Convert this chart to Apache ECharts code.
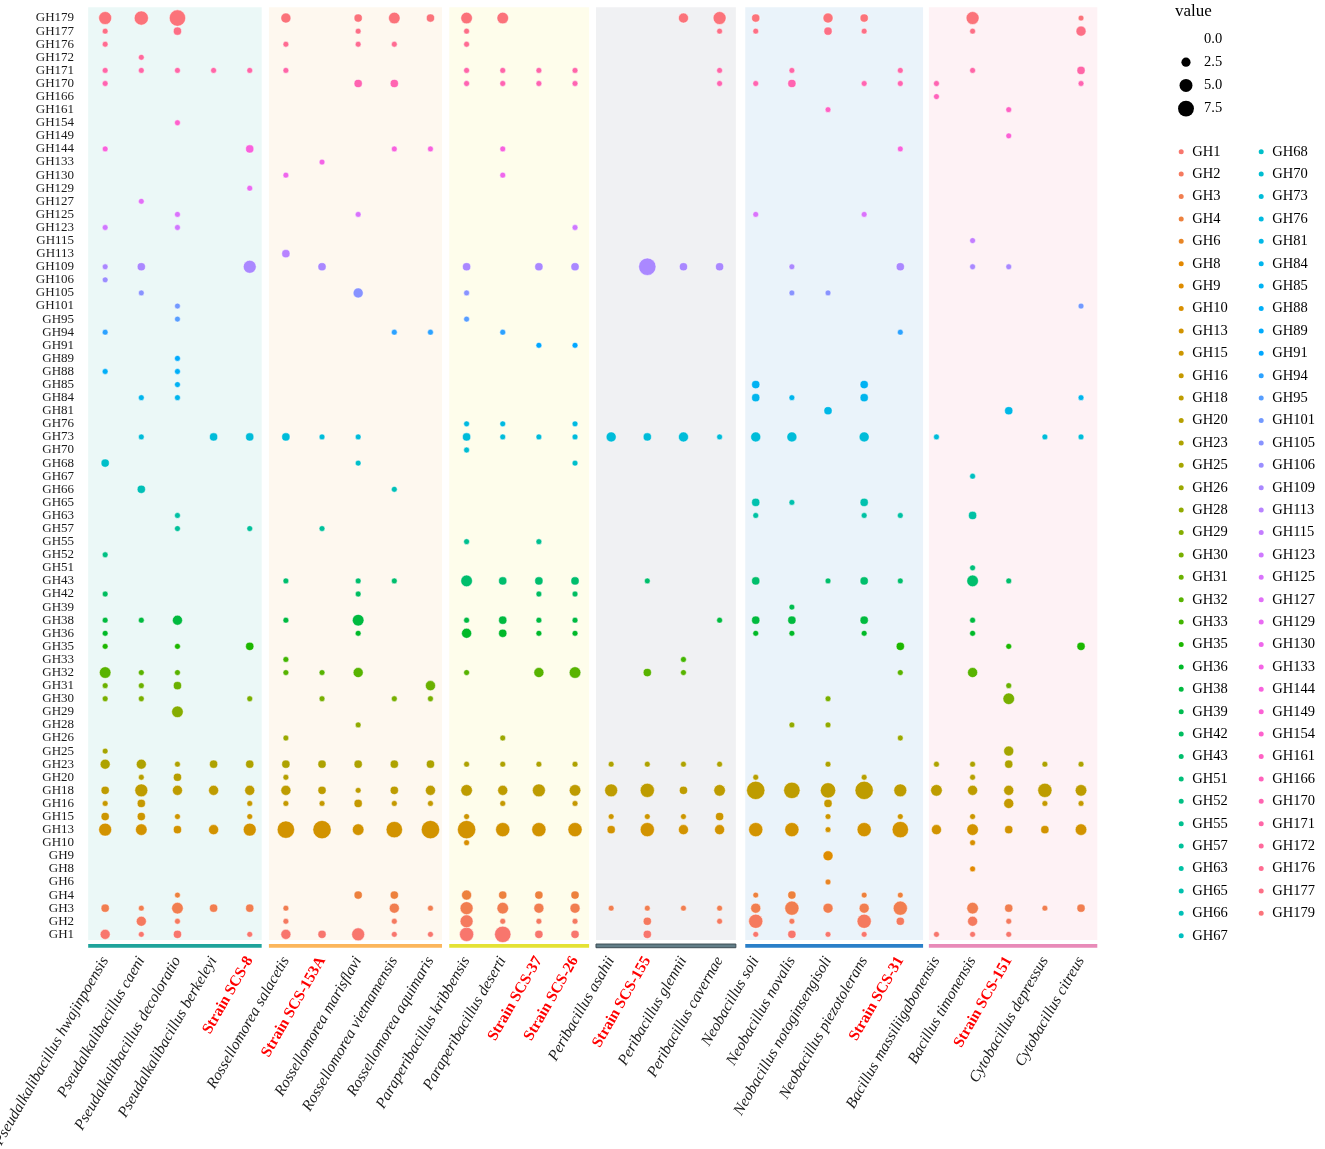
<!DOCTYPE html>
<html>
<head>
<meta charset="utf-8">
<title>GH families</title>
<script src="https://cdn.jsdelivr.net/npm/echarts@6.0.0/dist/echarts.min.js"></script>
<style>
	html, body { margin: 0; padding: 0; background: #fff; }
	#chart { width: 1325px; height: 1149px; }
</style>
</head>
<body>
<div id="chart"></div>
<script>
// genomes, left to right
var genomes = [
	'Pseudalkalibacillus hwajinpoensis', 'Pseudalkalibacillus caeni', 'Pseudalkalibacillus decoloratio',
	'Pseudalkalibacillus berkeleyi', 'Strain SCS-8',
	'Rossellomorea salacetis', 'Strain SCS-153A', 'Rossellomorea marisflavi', 'Rossellomorea vietnamensis',
	'Rossellomorea aquimaris',
	'Paraperibacillus kribbensis', 'Paraperibacillus deserti', 'Strain SCS-37', 'Strain SCS-26',
	'Peribacillus asahii', 'Strain SCS-155', 'Peribacillus glennii', 'Peribacillus cavernae',
	'Neobacillus soli', 'Neobacillus novalis', 'Neobacillus notoginsengisoli', 'Neobacillus piezotolerans',
	'Strain SCS-31',
	'Bacillus massiliigabonensis', 'Bacillus timonensis', 'Strain SCS-151', 'Cytobacillus depressus',
	'Cytobacillus citreus'
]

// GH families, bottom to top
var families = [
	'GH1', 'GH2', 'GH3', 'GH4', 'GH6', 'GH8', 'GH9', 'GH10', 'GH13', 'GH15', 'GH16', 'GH18',
	'GH20', 'GH23', 'GH25', 'GH26', 'GH28', 'GH29', 'GH30', 'GH31', 'GH32', 'GH33', 'GH35', 'GH36',
	'GH38', 'GH39', 'GH42', 'GH43', 'GH51', 'GH52', 'GH55', 'GH57', 'GH63', 'GH65', 'GH66', 'GH67',
	'GH68', 'GH70', 'GH73', 'GH76', 'GH81', 'GH84', 'GH85', 'GH88', 'GH89', 'GH91', 'GH94', 'GH95',
	'GH101', 'GH105', 'GH106', 'GH109', 'GH113', 'GH115', 'GH123', 'GH125', 'GH127', 'GH129', 'GH130', 'GH133',
	'GH144', 'GH149', 'GH154', 'GH161', 'GH166', 'GH170', 'GH171', 'GH172', 'GH176', 'GH177', 'GH179'
]

// gene counts: one row per family (same order), one column per genome
var counts = [
	[3,1,2,0,1, 3,2,5,1,1, 6,8,2,2, 0,2,0,0, 1,2,1,1,0, 1,1,1,0,0], // GH1
	[0,3,1,0,0, 1,0,0,1,0, 5,1,1,1, 0,2,0,1, 6,1,0,6,2, 0,3,1,0,0], // GH2
	[2,1,4,2,2, 1,0,0,3,1, 5,4,3,3, 1,1,1,1, 3,6,3,3,6, 0,4,2,1,2], // GH3
	[0,0,1,0,0, 0,0,2,2,0, 3,2,2,2, 0,0,0,0, 1,2,0,1,1, 0,0,0,0,0], // GH4
	[0,0,0,0,0, 0,0,0,0,0, 0,0,0,0, 0,0,0,0, 0,0,1,0,0, 0,0,0,0,0], // GH6
	[0,0,0,0,0, 0,0,0,0,0, 0,0,0,0, 0,0,0,0, 0,0,0,0,0, 0,1,0,0,0], // GH8
	[0,0,0,0,0, 0,0,0,0,0, 0,0,0,0, 0,0,0,0, 0,0,3,0,0, 0,0,0,0,0], // GH9
	[0,0,0,0,0, 0,0,0,0,0, 1,0,0,0, 0,0,0,0, 0,0,0,0,0, 0,1,0,0,0], // GH10
	[5,4,2,3,5, 9,10,4,8,10, 10,6,6,6, 2,6,3,3, 6,6,1,6,8, 3,4,2,2,4], // GH13
	[2,2,1,0,1, 0,0,0,0,0, 1,0,0,0, 1,1,1,2, 0,0,1,0,1, 0,1,0,0,0], // GH15
	[1,2,0,0,1, 1,1,2,1,1, 0,1,0,1, 0,0,0,0, 0,0,2,0,0, 0,0,3,1,1], // GH16
	[2,5,3,3,3, 3,2,1,2,3, 4,3,5,4, 5,6,2,4, 10,8,7,10,5, 4,3,3,6,4], // GH18
	[0,1,2,0,0, 1,0,0,0,0, 0,0,0,0, 0,0,0,0, 1,0,0,1,0, 0,1,0,0,0], // GH20
	[3,3,1,2,2, 2,2,2,2,2, 1,1,1,1, 1,1,1,1, 0,0,1,0,0, 1,1,2,1,1], // GH23
	[1,0,0,0,0, 0,0,0,0,0, 0,0,0,0, 0,0,0,0, 0,0,0,0,0, 0,0,3,0,0], // GH25
	[0,0,0,0,0, 1,0,0,0,0, 0,1,0,0, 0,0,0,0, 0,0,0,0,1, 0,0,0,0,0], // GH26
	[0,0,0,0,0, 0,0,1,0,0, 0,0,0,0, 0,0,0,0, 0,1,1,0,0, 0,0,0,0,0], // GH28
	[0,0,4,0,0, 0,0,0,0,0, 0,0,0,0, 0,0,0,0, 0,0,0,0,0, 0,0,0,0,0], // GH29
	[1,1,0,0,1, 0,1,0,1,1, 0,0,0,0, 0,0,0,0, 0,0,1,0,0, 0,0,4,0,0], // GH30
	[1,1,2,0,0, 0,0,0,0,3, 0,0,0,0, 0,0,0,0, 0,0,0,0,0, 0,0,1,0,0], // GH31
	[4,1,1,0,0, 1,1,3,0,0, 1,0,3,4, 0,2,1,0, 0,0,0,0,1, 0,3,0,0,0], // GH32
	[0,0,0,0,0, 1,0,0,0,0, 0,0,0,0, 0,0,1,0, 0,0,0,0,0, 0,0,0,0,0], // GH33
	[1,0,1,0,2, 0,0,0,0,0, 0,0,0,0, 0,0,0,0, 0,0,0,0,2, 0,0,1,0,2], // GH35
	[1,0,0,0,0, 0,0,1,0,0, 3,2,1,1, 0,0,0,0, 1,1,0,1,0, 0,1,0,0,0], // GH36
	[1,1,3,0,0, 1,0,4,0,0, 1,2,1,1, 0,0,0,1, 2,2,0,2,0, 0,1,0,0,0], // GH38
	[0,0,0,0,0, 0,0,0,0,0, 0,0,0,0, 0,0,0,0, 0,1,0,0,0, 0,0,0,0,0], // GH39
	[1,0,0,0,0, 0,0,1,0,0, 0,0,1,1, 0,0,0,0, 0,0,0,0,0, 0,0,0,0,0], // GH42
	[0,0,0,0,0, 1,0,1,1,0, 4,2,2,2, 0,1,0,0, 2,0,1,2,1, 0,4,1,0,0], // GH43
	[0,0,0,0,0, 0,0,0,0,0, 0,0,0,0, 0,0,0,0, 0,0,0,0,0, 0,1,0,0,0], // GH51
	[1,0,0,0,0, 0,0,0,0,0, 0,0,0,0, 0,0,0,0, 0,0,0,0,0, 0,0,0,0,0], // GH52
	[0,0,0,0,0, 0,0,0,0,0, 1,0,1,0, 0,0,0,0, 0,0,0,0,0, 0,0,0,0,0], // GH55
	[0,0,1,0,1, 0,1,0,0,0, 0,0,0,0, 0,0,0,0, 0,0,0,0,0, 0,0,0,0,0], // GH57
	[0,0,1,0,0, 0,0,0,0,0, 0,0,0,0, 0,0,0,0, 1,0,0,1,1, 0,2,0,0,0], // GH63
	[0,0,0,0,0, 0,0,0,0,0, 0,0,0,0, 0,0,0,0, 2,1,0,2,0, 0,0,0,0,0], // GH65
	[0,2,0,0,0, 0,0,0,1,0, 0,0,0,0, 0,0,0,0, 0,0,0,0,0, 0,0,0,0,0], // GH66
	[0,0,0,0,0, 0,0,0,0,0, 0,0,0,0, 0,0,0,0, 0,0,0,0,0, 0,1,0,0,0], // GH67
	[2,0,0,0,0, 0,0,1,0,0, 0,0,0,1, 0,0,0,0, 0,0,0,0,0, 0,0,0,0,0], // GH68
	[0,0,0,0,0, 0,0,0,0,0, 1,0,0,0, 0,0,0,0, 0,0,0,0,0, 0,0,0,0,0], // GH70
	[0,1,0,2,2, 2,1,1,0,0, 2,1,1,1, 3,2,3,1, 3,3,0,3,0, 1,0,0,1,1], // GH73
	[0,0,0,0,0, 0,0,0,0,0, 1,1,0,1, 0,0,0,0, 0,0,0,0,0, 0,0,0,0,0], // GH76
	[0,0,0,0,0, 0,0,0,0,0, 0,0,0,0, 0,0,0,0, 0,0,2,0,0, 0,0,2,0,0], // GH81
	[0,1,1,0,0, 0,0,0,0,0, 0,0,0,0, 0,0,0,0, 2,1,0,2,0, 0,0,0,0,1], // GH84
	[0,0,1,0,0, 0,0,0,0,0, 0,0,0,0, 0,0,0,0, 2,0,0,2,0, 0,0,0,0,0], // GH85
	[1,0,1,0,0, 0,0,0,0,0, 0,0,0,0, 0,0,0,0, 0,0,0,0,0, 0,0,0,0,0], // GH88
	[0,0,1,0,0, 0,0,0,0,0, 0,0,0,0, 0,0,0,0, 0,0,0,0,0, 0,0,0,0,0], // GH89
	[0,0,0,0,0, 0,0,0,0,0, 0,0,1,1, 0,0,0,0, 0,0,0,0,0, 0,0,0,0,0], // GH91
	[1,0,0,0,0, 0,0,0,1,1, 0,1,0,0, 0,0,0,0, 0,0,0,0,1, 0,0,0,0,0], // GH94
	[0,0,1,0,0, 0,0,0,0,0, 1,0,0,0, 0,0,0,0, 0,0,0,0,0, 0,0,0,0,0], // GH95
	[0,0,1,0,0, 0,0,0,0,0, 0,0,0,0, 0,0,0,0, 0,0,0,0,0, 0,0,0,0,1], // GH101
	[0,1,0,0,0, 0,0,3,0,0, 1,0,0,0, 0,0,0,0, 0,1,1,0,0, 0,0,0,0,0], // GH105
	[1,0,0,0,0, 0,0,0,0,0, 0,0,0,0, 0,0,0,0, 0,0,0,0,0, 0,0,0,0,0], // GH106
	[1,2,0,0,5, 0,2,0,0,0, 2,0,2,2, 0,9,2,2, 0,1,0,0,2, 0,1,1,0,0], // GH109
	[0,0,0,0,0, 2,0,0,0,0, 0,0,0,0, 0,0,0,0, 0,0,0,0,0, 0,0,0,0,0], // GH113
	[0,0,0,0,0, 0,0,0,0,0, 0,0,0,0, 0,0,0,0, 0,0,0,0,0, 0,1,0,0,0], // GH115
	[1,0,1,0,0, 0,0,0,0,0, 0,0,0,1, 0,0,0,0, 0,0,0,0,0, 0,0,0,0,0], // GH123
	[0,0,1,0,0, 0,0,1,0,0, 0,0,0,0, 0,0,0,0, 1,0,0,1,0, 0,0,0,0,0], // GH125
	[0,1,0,0,0, 0,0,0,0,0, 0,0,0,0, 0,0,0,0, 0,0,0,0,0, 0,0,0,0,0], // GH127
	[0,0,0,0,1, 0,0,0,0,0, 0,0,0,0, 0,0,0,0, 0,0,0,0,0, 0,0,0,0,0], // GH129
	[0,0,0,0,0, 1,0,0,0,0, 0,1,0,0, 0,0,0,0, 0,0,0,0,0, 0,0,0,0,0], // GH130
	[0,0,0,0,0, 0,1,0,0,0, 0,0,0,0, 0,0,0,0, 0,0,0,0,0, 0,0,0,0,0], // GH133
	[1,0,0,0,2, 0,0,0,1,1, 0,1,0,0, 0,0,0,0, 0,0,0,0,1, 0,0,0,0,0], // GH144
	[0,0,0,0,0, 0,0,0,0,0, 0,0,0,0, 0,0,0,0, 0,0,0,0,0, 0,0,1,0,0], // GH149
	[0,0,1,0,0, 0,0,0,0,0, 0,0,0,0, 0,0,0,0, 0,0,0,0,0, 0,0,0,0,0], // GH154
	[0,0,0,0,0, 0,0,0,0,0, 0,0,0,0, 0,0,0,0, 0,0,1,0,0, 0,0,1,0,0], // GH161
	[0,0,0,0,0, 0,0,0,0,0, 0,0,0,0, 0,0,0,0, 0,0,0,0,0, 1,0,0,0,0], // GH166
	[1,0,0,0,0, 0,0,2,2,0, 1,1,1,1, 0,0,0,1, 1,2,0,1,1, 1,0,0,0,1], // GH170
	[1,1,1,1,1, 1,0,0,0,0, 1,1,1,1, 0,0,0,1, 0,1,0,0,1, 0,1,0,0,2], // GH171
	[0,1,0,0,0, 0,0,0,0,0, 0,0,0,0, 0,0,0,0, 0,0,0,0,0, 0,0,0,0,0], // GH172
	[1,0,0,0,0, 1,0,1,1,0, 1,0,0,0, 0,0,0,0, 0,0,0,0,0, 0,0,0,0,0], // GH176
	[1,0,2,0,0, 0,0,1,0,0, 1,0,0,0, 0,0,0,1, 1,0,2,1,0, 0,1,0,0,3], // GH177
	[5,6,8,0,0, 3,0,2,4,2, 4,4,0,0, 0,0,3,5, 2,0,3,2,0, 0,5,0,0,1]  // GH179
]

// size legend breaks
var sizeBreaks = [0, 2.5, 5, 7.5]

var FONT = 'Liberation Serif, Times New Roman, serif'

// shaded block behind each genus (column units) and the bar under it
var panels = [
	{ from: -0.47, to: 4.33, fill: '#ebf8f7', bar: '#20a39b' },
	{ from: 4.53, to: 9.32, fill: '#fef8ef', bar: '#fbb65d' },
	{ from: 9.52, to: 13.39, fill: '#fefdeb', bar: '#e4e236' },
	{ from: 13.58, to: 17.45, fill: '#f0f1f3', bar: '#627e88', edge: '#3d4d55' },
	{ from: 17.71, to: 22.63, fill: '#eaf3fa', bar: '#2a7fc8' },
	{ from: 22.79, to: 27.45, fill: '#fef2f5', bar: '#e88bb8' }
]

// ggplot2 default hue palette: hcl(h, c = 100, l = 65)
function hcl2hex(h, c, l) {
	var hr = h * Math.PI / 180
	var U = c * Math.cos(hr)
	var V = c * Math.sin(hr)
	var Xn = 95.047, Yn = 100, Zn = 108.883
	var un = 4 * Xn / (Xn + 15 * Yn + 3 * Zn)
	var vn = 9 * Yn / (Xn + 15 * Yn + 3 * Zn)
	var Y = Yn * Math.pow((l + 16) / 116, 3)
	var u = U / (13 * l) + un
	var v = V / (13 * l) + vn
	var X = Y * 9 * u / (4 * v)
	var Z = Y * (12 - 3 * u - 20 * v) / (4 * v)
	X /= 100; Y /= 100; Z /= 100
	var rgb = [
		3.240479 * X - 1.53715 * Y - 0.498535 * Z,
		-0.969256 * X + 1.875992 * Y + 0.041556 * Z,
		0.055648 * X - 0.204043 * Y + 1.057311 * Z
	]
	return '#' + rgb.map(function (x) {
		x = x <= 0.0031308 ? 12.92 * x : 1.055 * Math.pow(x, 1 / 2.4) - 0.055
		x = Math.round(Math.min(1, Math.max(0, x)) * 255)
		return (x < 16 ? '0' : '') + x.toString(16)
	}).join('')
}

var palette = families.map(function (f, i) {
	return hcl2hex(15 + i * 360 / families.length, 100, 65)
})

// area scale: diameter grows with sqrt(value)
function sizeOf(v) {
	return 5.8 * Math.sqrt(v)
}

var series = []

series.push({
	type: 'custom',
	xAxisIndex: 1,
	yAxisIndex: 1,
	clip: false,
	silent: true,
	z: 0,
	data: panels.map(function (p, i) { return [p.from, p.to, i] }),
	renderItem: function (params, api) {
		var p = panels[api.value(2)]
		var tl = api.coord([api.value(0), 70.82])
		var br = api.coord([api.value(1), -0.43])
		var b0 = api.coord([api.value(0), -0.74])
		var b1 = api.coord([api.value(1), -1.02])
		return {
			type: 'group',
			children: [
				{
					type: 'rect',
					shape: { x: tl[0], y: tl[1], width: br[0] - tl[0], height: br[1] - tl[1] },
					style: { fill: p.fill }
				},
				{
					type: 'rect',
					shape: { x: b0[0], y: b0[1], width: b1[0] - b0[0], height: b1[1] - b0[1] },
					style: { fill: p.bar, stroke: p.edge || null, lineWidth: p.edge ? 1 : 0 }
				}
			]
		}
	}
})

families.forEach(function (gh, gi) {
	var pts = []
	counts[gi].forEach(function (v, ci) {
		if (v > 0) pts.push([ci, gi, v])
	})
	series.push({
		name: gh,
		type: 'scatter',
		xAxisIndex: 0,
		yAxisIndex: 0,
		z: 2,
		data: pts,
		symbol: 'circle',
		symbolSize: function (d) { return sizeOf(d[2]) },
		itemStyle: { color: palette[gi], opacity: 1, borderColor: '#fff', borderWidth: 0.5 },
		emphasis: { disabled: true }
	})
})

function legendCol(names, left) {
	return {
		data: names,
		orient: 'vertical',
		left: left,
		top: 140.5,
		padding: 0,
		itemGap: 0,
		itemWidth: 12,
		itemHeight: 7,
		icon: 'circle',
		selectedMode: false,
		textStyle: { fontFamily: FONT, fontSize: 14.5, color: '#000', lineHeight: 22.4 }
	}
}

// size legend
var sizeLegend = [{
	type: 'text',
	style: { text: 'value', x: 1175, y: 12, font: '17px ' + FONT, fill: '#000', verticalAlign: 'middle' }
}]
sizeBreaks.forEach(function (b, i) {
	var cy = 39 + i * 23.2
	if (b > 0) {
		sizeLegend.push({
			type: 'circle',
			shape: { cx: 1186, cy: cy, r: sizeOf(b) / 2 },
			style: { fill: '#000' }
		})
	}
	sizeLegend.push({
		type: 'text',
		style: { text: b.toFixed(1), x: 1204, y: cy, font: '14.5px ' + FONT, fill: '#000', verticalAlign: 'middle' }
	})
})

var option = {
	animation: false,
	backgroundColor: '#fff',
	grid: {
		left: 87.1,
		right: 225.9,
		top: 11.5,
		bottom: 208.1,
		containLabel: false,
		outerBoundsMode: 'none'
	},
	xAxis: [
		{
			type: 'category',
			data: genomes,
			axisLine: { show: false },
			axisTick: { show: false },
			splitLine: { show: false },
			axisLabel: {
				interval: 0,
				rotate: 60,
				margin: 17,
				formatter: function (name) {
					return name.indexOf('Strain') === 0 ? '{s|' + name + '}' : '{n|' + name + '}'
				},
				rich: {
					n: { fontFamily: FONT, fontStyle: 'italic', fontSize: 15.5, color: '#1a1a1a' },
					s: { fontFamily: FONT, fontWeight: 'bold', fontSize: 15.5, color: '#ff0000' }
				}
			}
		},
		{ type: 'value', min: -0.5, max: 27.5, show: false }
	],
	yAxis: [
		{
			type: 'category',
			data: families,
			axisLine: { show: false },
			axisTick: { show: false },
			splitLine: { show: false },
			axisLabel: { interval: 0, margin: 13, fontFamily: FONT, fontSize: 13, color: '#1a1a1a' }
		},
		{ type: 'value', min: -0.5, max: 70.5, show: false }
	],
	legend: [
		legendCol(families.slice(0, 36), 1176.7),
		legendCol(families.slice(36), 1256.7)
	],
	graphic: sizeLegend,
	series: series
}

var myChart = echarts.init(document.getElementById('chart'))
myChart.setOption(option)
window.addEventListener('resize', myChart.resize)
</script>
</body>
</html>
